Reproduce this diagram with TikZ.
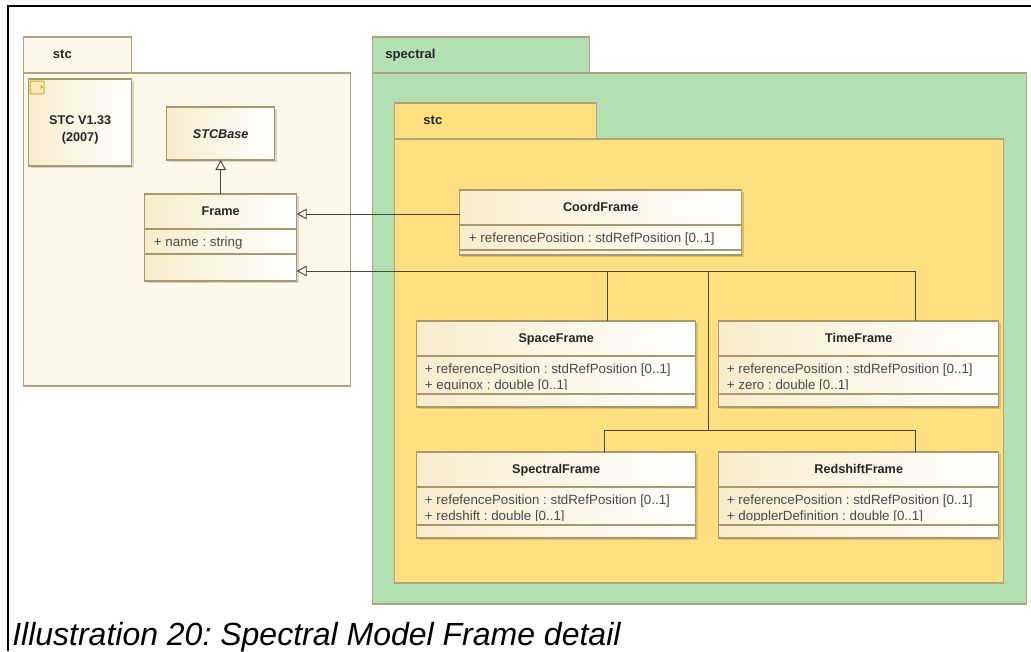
\documentclass[tikz,border=0pt]{standalone}
\usepackage{fontspec}
\setmainfont{Liberation Sans}
\usetikzlibrary{arrows.meta}
\definecolor{pkgline}{HTML}{B0A47E}
\definecolor{clsline}{HTML}{A8986C}
\definecolor{clsleft}{HTML}{F8ECCC}
\definecolor{pkgcream}{HTML}{FEF8EA}
\definecolor{pkggreen}{HTML}{B2E0B2}
\definecolor{pkgyellow}{HTML}{FFDF80}
\definecolor{conn}{HTML}{4A463A}
\definecolor{attr}{HTML}{4A4A4A}
\definecolor{icongold}{HTML}{D9A93A}
\definecolor{iconfill}{HTML}{FBEBB8}
\frenchspacing
\tikzset{
  x=0.75pt,y=-0.75pt,
  pkg/.style={draw=pkgline,line width=0.8pt,inner sep=0pt,outer sep=0pt,anchor=center},
  umlbox/.style={draw=clsline,line width=0.8pt,left color=clsleft,right color=white,shading angle=90,inner sep=0pt,outer sep=0pt},
  shadowbox/.style={fill=black,fill opacity=0.14},
  title/.style={font=\fontsize{9.5pt}{11pt}\selectfont\bfseries,text=black!85,inner sep=0pt,anchor=base},
  attrtext/.style={font=\fontsize{10pt}{11pt}\selectfont,text=attr,inner sep=0pt,anchor=base west},
  sep/.style={draw=clsline,line width=0.8pt},
  pkgname/.style={font=\fontsize{9.8pt}{11pt}\selectfont\bfseries,text=black!85,inner sep=0pt,anchor=base west},
  gen/.style={draw=conn,line width=0.7pt},
  genarrow/.style={gen,-{Triangle[open,length=7.5pt,width=8pt]}},
}
% name x1 y1 x2 y2 fill
\newcommand{\pkgbox}[6]{%
  \node[pkg,fill=#6,minimum width={(#4-#2)*0.75pt},minimum height={(#5-#3)*0.75pt}] (#1) at ({(#2+#4)/2},{(#3+#5)/2}) {};}
\newcommand{\umlrect}[5]{%
  \fill[shadowbox] (#2+2,#3+2) rectangle (#4+2,#5+2);
  \node[umlbox,minimum width={(#4-#2)*0.75pt},minimum height={(#5-#3)*0.75pt}] (#1) at ({(#2+#4)/2},{(#3+#5)/2}) {};}
% name x1 y1 x2 y2 title; two-row class
\newcommand{\twoattr}[8]{%
  \umlrect{#1}{#2}{#3}{#4}{#5}
  \node[title] (#1t) at ({(#2+#4)/2},#3+21) {#6};
  \draw[sep] (#2,#3+35) -- (#4,#3+35);
  \draw[sep] (#2,#3+73) -- (#4,#3+73);
  \node[attrtext] (#1a) at (#2+8,#3+52) {#7};
  \begin{scope}
    \clip (#2,#3+56) rectangle (#4,#3+68.3);
    \node[attrtext] (#1b) at (#2+8,#3+68) {#8};
  \end{scope}}
\begin{document}
\begin{tikzpicture}
\useasboundingbox (0,0) rectangle (1031,651);
\fill[white] (0,0) rectangle (1031,651);
% page frame
\coordinate (pfb) at (7.5,651);
\coordinate (pftl) at (7.5,6);
\coordinate (pfr) at (1031,6);
\draw[black,line width=1.5pt] (pfb) -- (pftl) -- (pfr);
\begin{scope}[shift={(-0.3,0)}]
% left package
\pkgbox{stctab}{24}{37}{132}{73}{pkgcream}
\pkgbox{stcbody}{24}{73}{351}{386}{pkgcream}
\node[pkgname] (stcname) at (53,58) {stc};
% spectral package
\pkgbox{spectab}{373}{37}{590}{73}{pkggreen}
\pkgbox{specbody}{373}{73}{1027}{604}{pkggreen}
\node[pkgname] (specname) at (385.5,58) {spectral};
% inner package
\pkgbox{intab}{395}{103}{597}{139}{pkgyellow}
\pkgbox{inbody}{395}{139}{1004}{583}{pkgyellow}
\node[pkgname] (inname) at (423.5,124) {stc};
% note
\umlrect{note}{29}{79}{132}{166}
\node[title,anchor=center,align=center,font=\fontsize{9.5pt}{12.4pt}\selectfont\bfseries] (notetext) at (80.5,130) {STC V1.33\\(2007)};
\node[draw=icongold,line width=0.8pt,fill=iconfill,rounded corners=0.5pt,minimum width=10.5pt,minimum height=9.5pt,inner sep=0pt,outer sep=0pt] (icon) at (37.5,87.5) {};
\fill[icongold] (41,85) -- (43.5,87) -- (41,89) -- cycle;
% STCBase
\umlrect{base}{167}{107}{275}{160}
\node[title,font=\fontsize{9.5pt}{11pt}\selectfont\bfseries\itshape] (baset) at (221,138) {STCBase};
% Frame
\umlrect{frame}{145}{194}{297}{281}
\node[title] (framet) at (221,215.5) {Frame};
\draw[sep] (145,229) -- (297,229);
\draw[sep] (145,254) -- (297,254);
\node[attrtext] (framea) at (154,246) {+ name : string};
% CoordFrame
\umlrect{coord}{460}{190}{742}{255}
\node[title] (coordt) at (601,211) {CoordFrame};
\draw[sep] (460,225) -- (742,225);
\draw[sep] (460,250) -- (742,250);
\node[attrtext] (coorda) at (469,242) {+ referencePosition : stdRefPosition [0..1]};
% four frames
\twoattr{space}{417}{321}{696}{407}{SpaceFrame}{+ referencePosition : stdRefPosition [0..1]}{+ equinox : double [0..1]}
\twoattr{time}{719}{321}{999}{407}{TimeFrame}{+ referencePosition : stdRefPosition [0..1]}{+ zero : double [0..1]}
\twoattr{spectral}{417}{452}{696}{538}{SpectralFrame}{+ refefencePosition : stdRefPosition [0..1]}{+ redshift : double [0..1]}
\twoattr{redshift}{719}{452}{999}{538}{RedshiftFrame}{+ referencePosition : stdRefPosition [0..1]}{+ dopplerDefinition : double [0..1]}
% connectors
\draw[genarrow] (frame.north) -- (base.south);
\coordinate (coordout) at (460,214);
\coordinate (bus) at (709,271);
\draw[genarrow] (coordout) -- (coordout -| frame.east);
\draw[genarrow] (bus) -- (bus -| frame.east);
\coordinate (spacein) at (608,321);
\coordinate (timein) at (916,321);
\coordinate (specin) at (605,452);
\coordinate (redin) at (916,452);
\coordinate (lowbus) at (709,430);
\draw[gen] (spacein) -- (spacein |- bus) -- (timein |- bus) -- (timein);
\draw[gen] (bus) -- (lowbus);
\draw[gen] (specin) -- (specin |- lowbus) -- (redin |- lowbus) -- (redin);
\end{scope}
% caption
\node[inner sep=0pt,anchor=base west,font=\fontsize{24pt}{28pt}\selectfont\itshape,text=black] (caption) at (12,645) {Illustration 20: Spectral Model Frame detail};
\end{tikzpicture}
\end{document}
